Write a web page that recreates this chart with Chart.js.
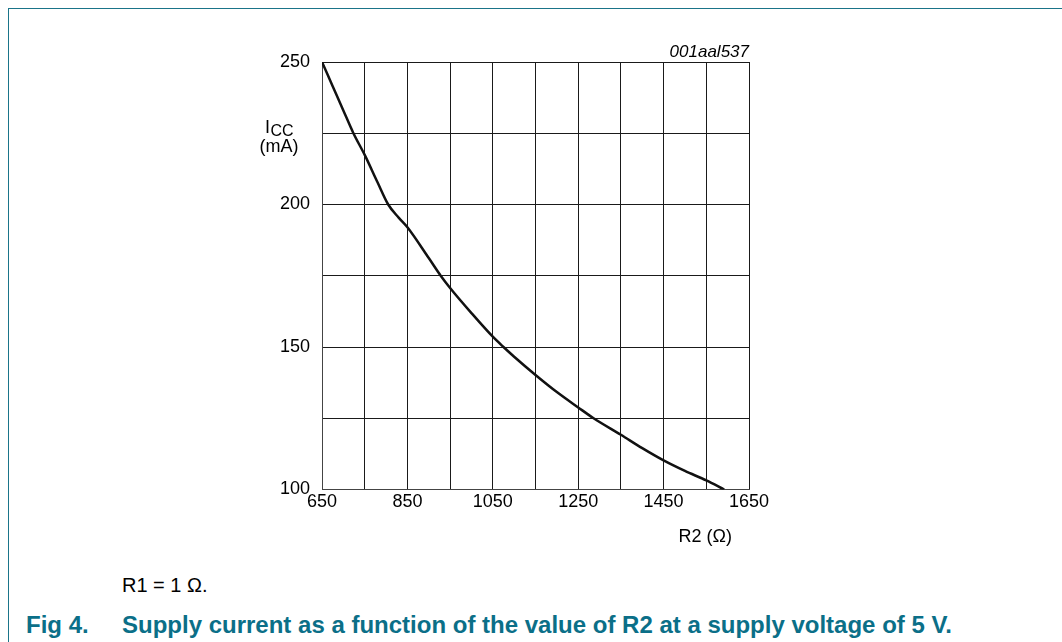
<!DOCTYPE html>
<html>
<head>
<meta charset="utf-8">
<script src="https://cdn.jsdelivr.net/npm/chart.js@4.4.1/dist/chart.umd.min.js"></script>
<style>
  html, body { margin: 0; padding: 0; background: #fff; }
  body { width: 1062px; height: 642px; position: relative; overflow: hidden; font-family: "Liberation Sans", Arial, sans-serif; }
  #frame { position: absolute; left: 8px; top: 8px; right: 0; bottom: 0; border-top: 1px solid #1a7489; border-left: 1px solid #1a7489; }
  #chart-box { position: absolute; left: 0; top: 0; width: 1062px; height: 560px; }
  .note { position: absolute; left: 122px; top: 575px; font-size: 20px; line-height: 1; color: #000; white-space: nowrap; }
  .cap { position: absolute; top: 613px; font-size: 24px; line-height: 1; font-weight: bold; color: #0b6f88; white-space: nowrap; }
</style>
</head>
<body>
<div id="frame"></div>
<div id="chart-box"><canvas id="icc-chart" width="1062" height="560"></canvas></div>
<div class="note">R1 = 1 &Omega;.</div>
<div class="cap" style="left:26px">Fig 4.</div>
<div class="cap" style="left:122px">Supply current as a function of the value of R2 at a supply voltage of 5 V.</div>

<script>
// Values
const r2Values = [650, 675, 700, 723, 750, 780, 805, 830, 850, 900, 928, 950, 1000, 1050, 1075, 1100, 1150, 1200, 1250, 1286, 1350, 1400, 1450, 1500, 1550, 1592];
const iccValues = [250, 241.5, 233, 225.2, 217.4, 207.8, 200, 195.3, 192, 181.2, 175, 170.7, 161.9, 153.6, 150, 146.6, 140.2, 134.2, 128.8, 125, 119.2, 114.5, 110.2, 106.5, 103.2, 100];

// Axis ticks (grid every step, labels only on these)
const xTickLabels = [650, 850, 1050, 1250, 1450, 1650];
const yTickLabels = [100, 150, 200, 250];

const FONT = '"Liberation Sans", Arial, sans-serif';
const gridColor = '#1a1a1a';

// Extra texts: axis names and figure code
const axisText = {
  id: 'axisText',
  afterDraw(chart) {
    const { ctx, chartArea } = chart;
    ctx.save();
    ctx.fillStyle = '#000';
    ctx.textBaseline = 'alphabetic';

    // I_CC (mA)
    const cx = chartArea.left - 43;
    ctx.font = '18px ' + FONT;
    const wI = ctx.measureText('I').width;
    ctx.font = '16px ' + FONT;
    const wCC = ctx.measureText('CC').width;
    const x0 = cx - (wI + wCC) / 2;
    ctx.textAlign = 'left';
    ctx.font = '18px ' + FONT;
    ctx.fillText('I', x0, chartArea.top + 71);
    ctx.font = '16px ' + FONT;
    ctx.fillText('CC', x0 + wI + 0.5, chartArea.top + 74);
    ctx.font = '18px ' + FONT;
    ctx.textAlign = 'center';
    ctx.fillText('(mA)', cx, chartArea.top + 90);

    // R2 (Ω)
    ctx.textAlign = 'right';
    ctx.fillText('R2 (\u03A9)', chartArea.right - 17, chartArea.bottom + 52);

    // figure code
    ctx.font = 'italic 17px ' + FONT;
    ctx.fillText('001aal537', chartArea.right, chartArea.top - 5);
    ctx.restore();
  }
};

new Chart(document.getElementById('icc-chart'), {
  type: 'scatter',
  data: {
    datasets: [{
      data: r2Values.map((r, i) => ({ x: r, y: iccValues[i] })),
      showLine: true,
      borderColor: '#111',
      borderWidth: 2.5,
      pointRadius: 0,
      cubicInterpolationMode: 'monotone',
      fill: false
    }]
  },
  options: {
    responsive: false,
    animation: false,
    devicePixelRatio: 1,
    layout: { padding: { left: 0, right: 313, top: 62, bottom: 30.5 } },
    plugins: {
      legend: { display: false },
      tooltip: { enabled: false }
    },
    scales: {
      x: {
        type: 'linear',
        min: 650,
        max: 1650,
        afterFit: (scale) => { scale.height = 40; },
        ticks: {
          stepSize: 100,
          autoSkip: false,
          maxRotation: 0,
          padding: 2,
          color: '#000',
          font: { family: FONT, size: 18 },
          callback: (v) => xTickLabels.includes(v) ? String(v) : ''
        },
        grid: { color: gridColor, lineWidth: 1, drawTicks: false },
        border: { color: '#444', width: 1 }
      },
      y: {
        min: 100,
        max: 250,
        afterFit: (scale) => { scale.width = 322; },
        ticks: {
          stepSize: 25,
          autoSkip: false,
          padding: 12,
          color: '#000',
          font: { family: FONT, size: 18 },
          callback: (v) => yTickLabels.includes(v) ? String(v) : ''
        },
        grid: { color: gridColor, lineWidth: 1, drawTicks: false },
        border: { color: '#444', width: 1 }
      }
    }
  },
  plugins: [axisText]
});
</script>
</body>
</html>
